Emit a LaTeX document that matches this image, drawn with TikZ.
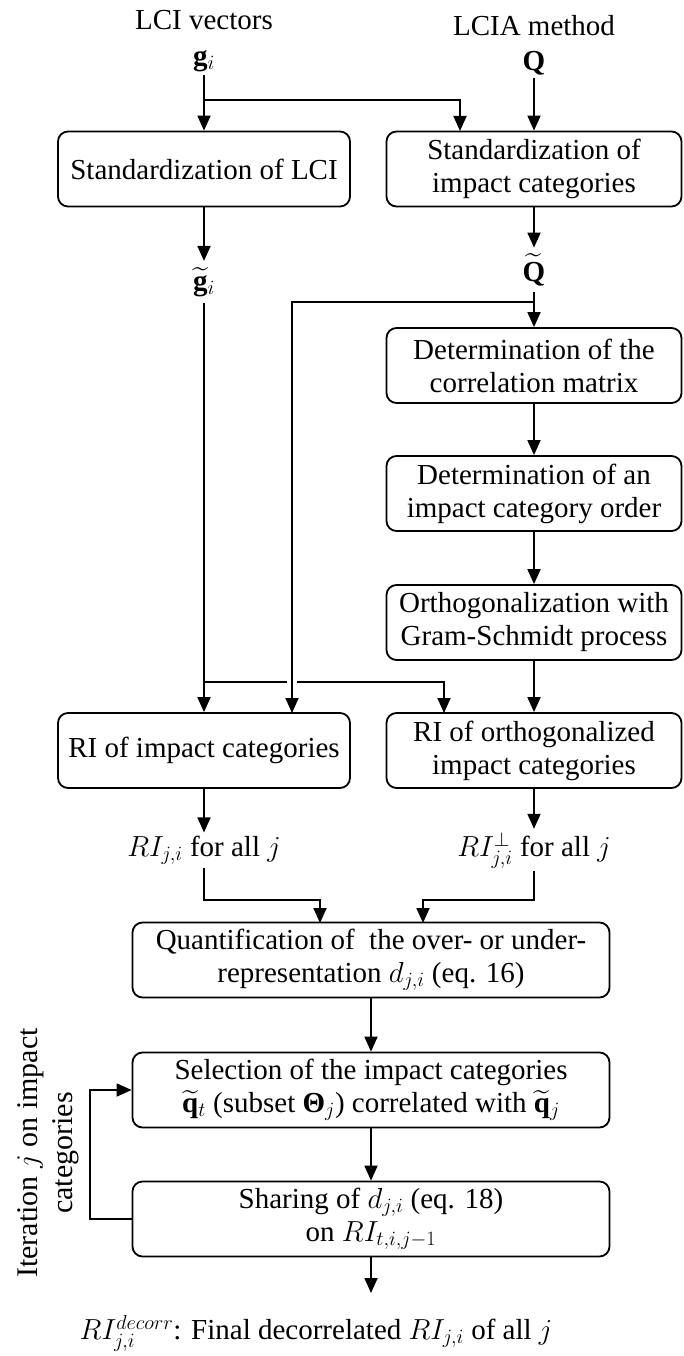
\RequirePackage{fix-cm}
\documentclass[tikz,border=0pt]{standalone}
\usepackage{amsmath, amssymb}
\usepackage{fontspec}
\setmainfont{Liberation Serif}
\usepackage{tikz}
\usetikzlibrary{arrows.meta,calc,positioning}

\begin{document}
\begin{tikzpicture}[x=1pt,y=-1pt,
    font=\fontsize{29}{33}\selectfont,
    box/.style={draw,line width=1.8pt,rounded corners=10pt,align=center,
      minimum height=75pt,inner sep=2pt},
    lbl/.style={align=center,inner sep=3pt},
    ln/.style={line width=1.8pt},
    arr/.style={line width=1.8pt,-{Triangle[length=15pt,width=13pt]}}]
        \useasboundingbox (0,0) rectangle (683,1356);
        %Inputs
        \node[lbl] (lciT) at (204,20) {LCI vectors};
        \node[lbl] (lciaT) at (534,26) {LCIA method};
        \node[lbl] (g) at (204,61) {$\mathbf{g}_i$};
        \node[lbl] (Q) at (534,63) {$\mathbf{Q}$};
        %Boxes
        \node[box,minimum width=292pt] (stdL) at (204,169) {Standardization of LCI};
        \node[box,minimum width=295pt] (stdR) at (534,169) {Standardization of\\impact categories};
        \node[lbl,inner sep=6pt] (gt) at (204,282) {$\widetilde{\mathbf{g}}_i$};
        \node[lbl,inner sep=6pt] (Qt) at (534,270) {$\widetilde{\mathbf{Q}}$};
        \node[box,minimum width=295pt] (corr) at (534,365.5) {Determination of the\\correlation matrix};
        \node[box,minimum width=295pt] (order) at (534,493.5) {Determination of an\\impact category order};
        \node[box,minimum width=295pt] (gram) at (534,622.5) {Orthogonalization with\\Gram-Schmidt process};
        \node[box,minimum width=292pt] (riL) at (204,750.5) {RI of impact categories};
        \node[box,minimum width=295pt] (riR) at (534,750.5) {RI of orthogonalized\\impact categories};
        \node[lbl] (riLt) at (204,850) {$RI_{j,i}$ for all $j$};
        \node[lbl] (riRt) at (534,850) {$RI^{\perp}_{j,i}$ for all $j$};
        \node[box,minimum width=477pt] (quant) at (371,960) {Quantification of~ the over- or under-\\representation $d_{j,i}$ (eq. 16)};
        \node[box,minimum width=477pt] (sel) at (371,1090) {Selection of the impact categories\\$\widetilde{\mathbf{q}}_t$ (subset \textbf{Θ}$_j$) correlated with $\widetilde{\mathbf{q}}_j$};
        \node[box,minimum width=477pt] (share) at (371,1219) {Sharing of $d_{j,i}$ (eq. 18)\\on $RI_{t,i,j-1}$};
        \node[lbl] (fin) at (316,1333) {$RI^{decorr}_{j,i}$: Final decorrelated $RI_{j,i}$ of all $j$};
        \node[lbl,rotate=90,font=\fontsize{30}{35}\selectfont] (iter) at (48,1153) {Iteration $j$ on impact\\categories};
        %Junctions
        \coordinate (j1) at (204,100);
        \coordinate (sR1) at (460,131);
        \coordinate (j2) at (534,302);
        \coordinate (rL2) at (292,713);
        \coordinate (j3) at (204,682);
        \coordinate (gapL) at (287,682);
        \coordinate (gapR) at (297,682);
        \coordinate (rR1) at (444,713);
        \coordinate (k1) at (204,900);
        \coordinate (k2) at (534,900);
        \coordinate (q1) at (320,923);
        \coordinate (q2) at (423,923);
        \coordinate (out) at (371,1293);
        %Connectors
        \draw[arr] (g.south) -- (stdL.north);
        \draw[arr] (j1) -| (sR1);
        \draw[arr] (Q.south) -- (stdR.north);
        \draw[arr] (stdL.south) -- (gt.north);
        \draw[arr] (stdR.south) -- (Qt.north);
        \draw[arr] (Qt.south) -- (corr.north);
        \draw[arr] (j2) -| (rL2);
        \draw[arr] (corr) -- (order);
        \draw[arr] (order) -- (gram);
        \draw[arr] (gram) -- (riR);
        \draw[arr] (gt.south) -- (riL.north);
        \draw[ln] (j3) -- (gapL);
        \draw[arr] (gapR) -| (rR1);
        \draw[arr] (riL) -- (riLt);
        \draw[arr] (riR) -- (riRt);
        \draw[arr] (riLt.south) -- (k1) -| (q1);
        \draw[arr] (riRt.south) -- (k2) -| (q2);
        \draw[arr] (quant) -- (sel);
        \draw[arr] (sel) -- (share);
        \draw[arr] (share.south) -- (out);
        \draw[arr] (share.west) -- ++(-42,0) |- (sel.west);
      \end{tikzpicture}
\end{document}
